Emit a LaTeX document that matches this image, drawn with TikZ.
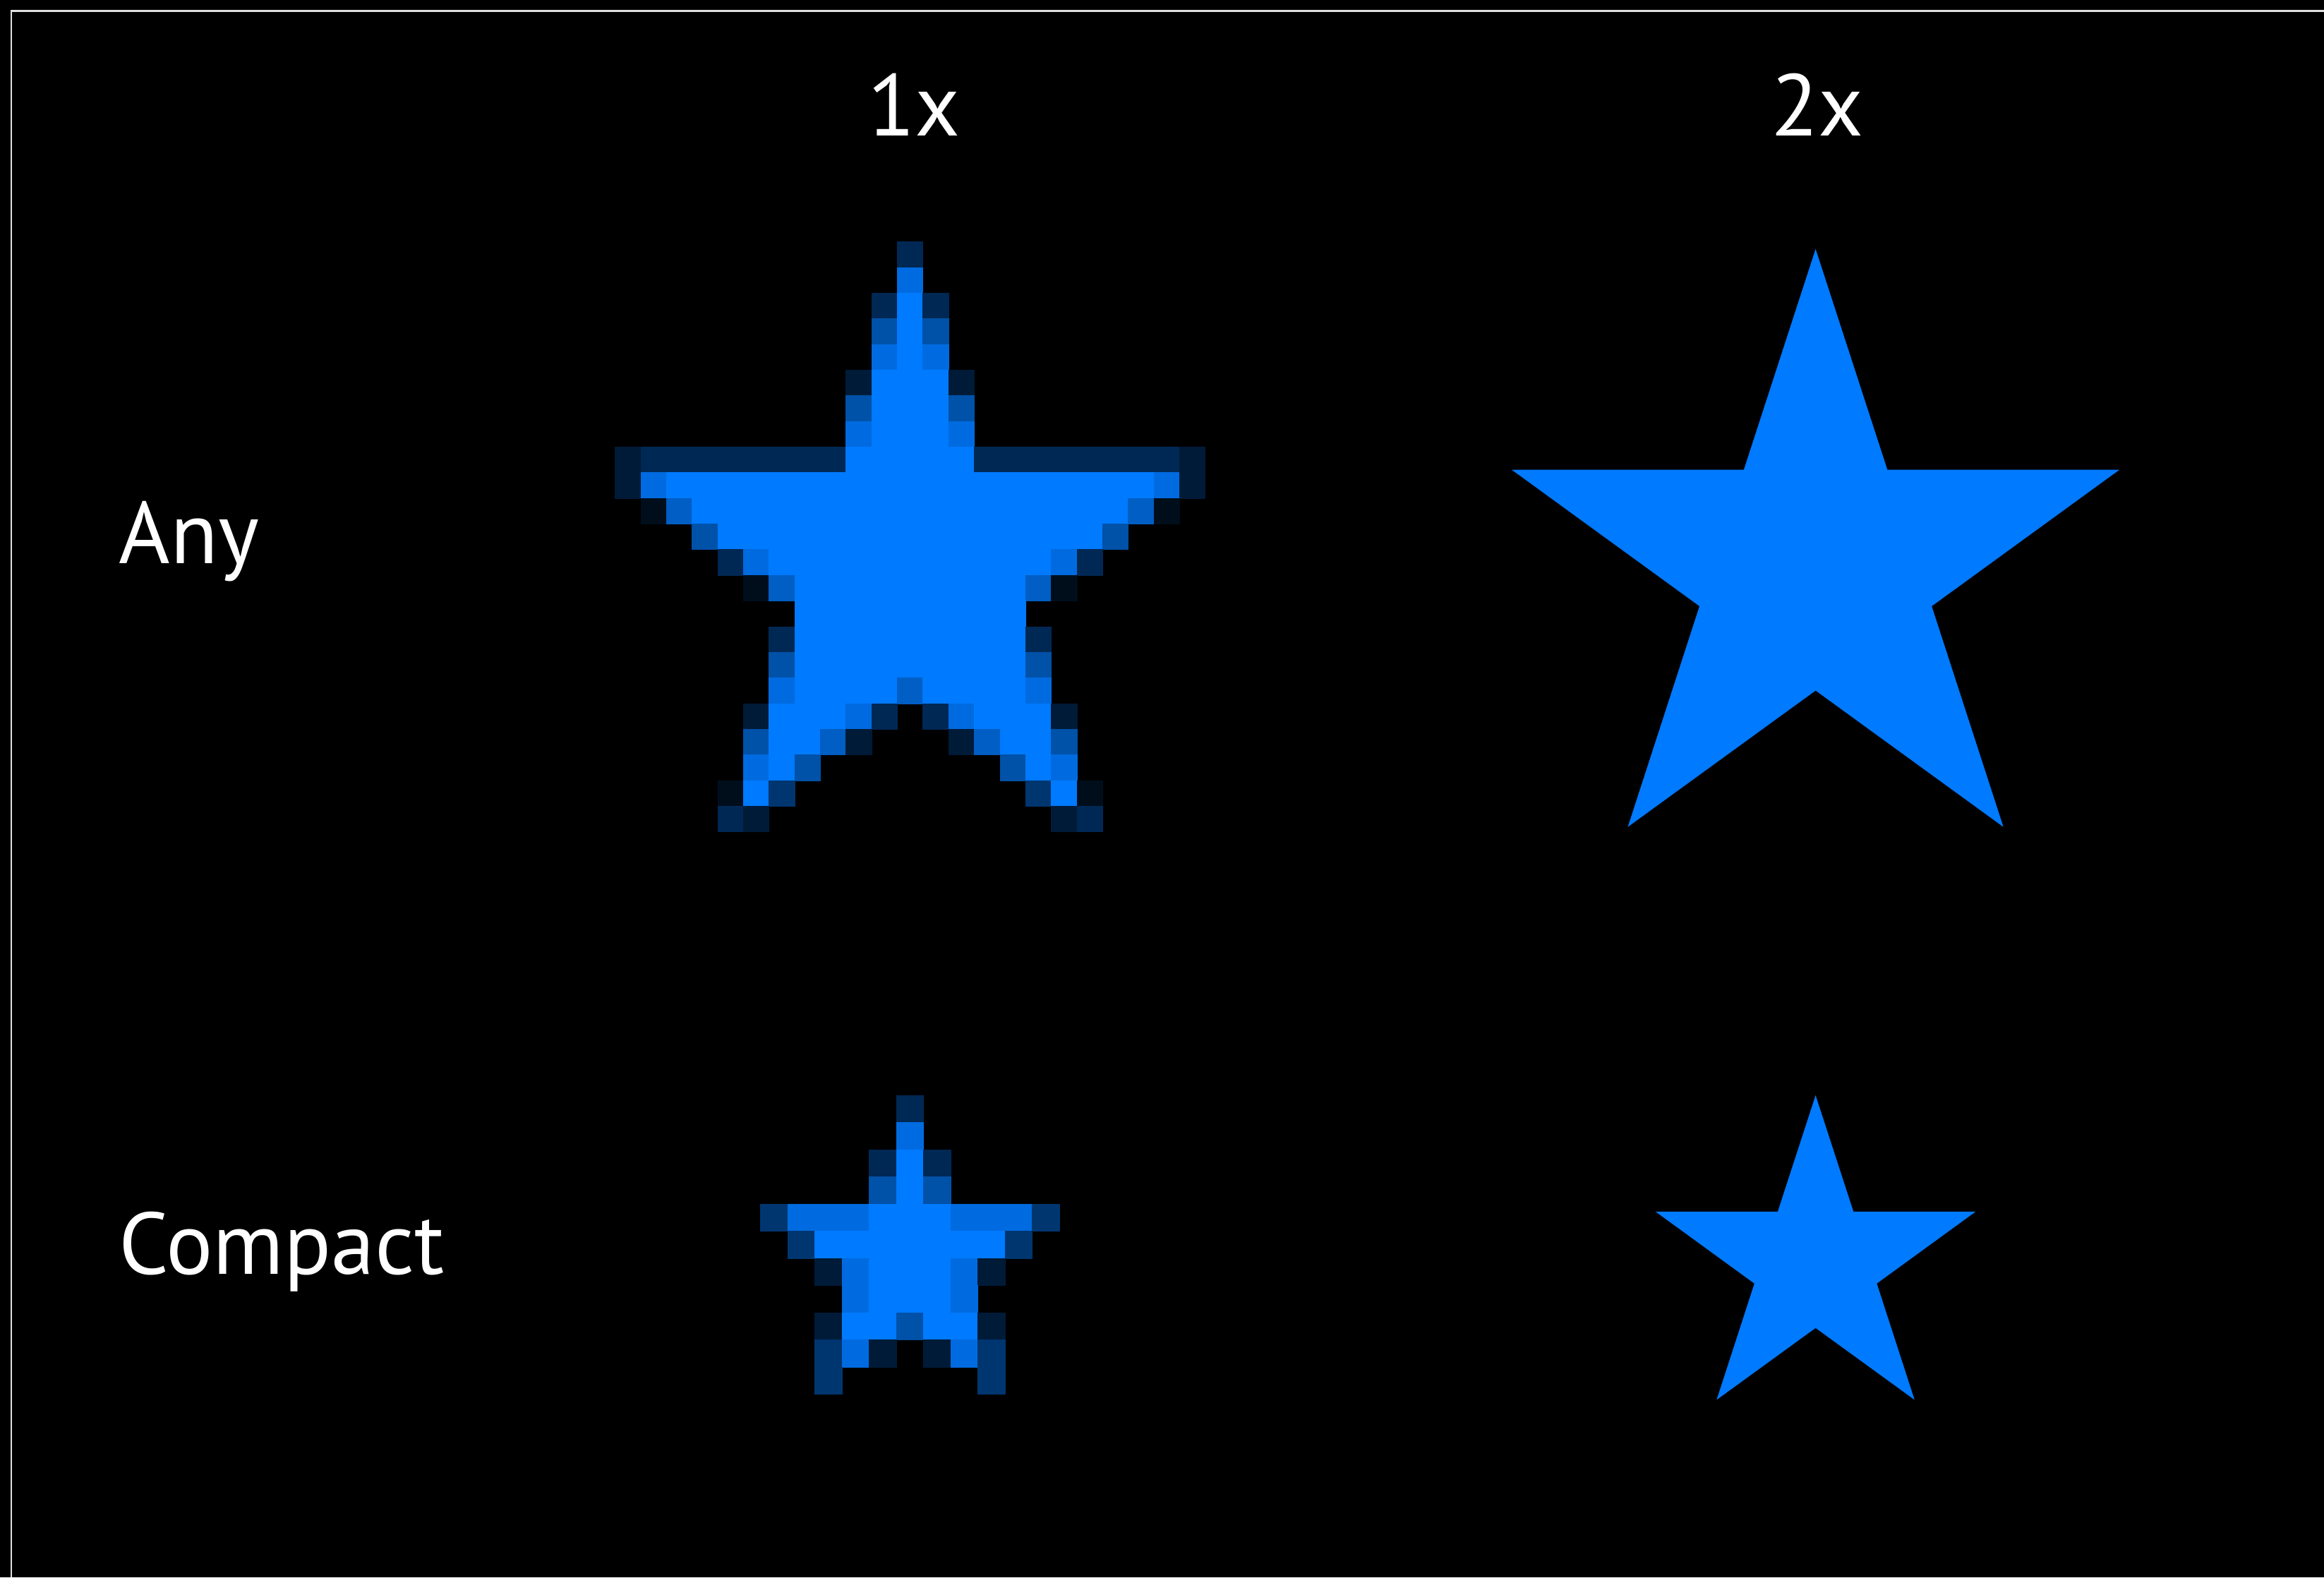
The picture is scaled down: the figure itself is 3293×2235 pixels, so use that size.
\documentclass[tikz,border=0pt]{standalone}
\usepackage{fontspec}
\setmainfont{PT Sans}
\definecolor{starblue}{RGB}{0,122,255}
\tikzset{
  lbl/.style={text=white, inner sep=0pt, font=\fontsize{35.3}{40}\selectfont},
  pix/.style={line width=0.15pt},
}

\begin{document}
\begin{tikzpicture}[x=0.01cm, y=-0.01cm]
  % Background and frame
  \fill[black] (0,0) rectangle (3293,2235);
  \useasboundingbox (0,0) rectangle (3293,2235);
  \draw[white!88!black, line width=0.7pt] (16,2235) -- (16,15.5) -- (3293,15.5);

  % Labels
  \node[lbl, anchor=base] (one) at (1295,192) {1x};
  \node[lbl, anchor=base] (two) at (2575,192) {2x};
  \node[lbl, anchor=base west] (any) at (168,798) {Any};
  \node[lbl, anchor=base west] (compact) at (168,1805) {Compact};

  % 1x, Any
  \foreach \row [count=\r from 0] in {
      {0,0,0,0,0,0,0,0,0,0,0,3,0,0,0,0,0,0,0,0,0,0,0},
      {0,0,0,0,0,0,0,0,0,0,0,8,0,0,0,0,0,0,0,0,0,0,0},
      {0,0,0,0,0,0,0,0,0,0,3,9,3,0,0,0,0,0,0,0,0,0,0},
      {0,0,0,0,0,0,0,0,0,0,6,9,6,0,0,0,0,0,0,0,0,0,0},
      {0,0,0,0,0,0,0,0,0,0,8,9,8,0,0,0,0,0,0,0,0,0,0},
      {0,0,0,0,0,0,0,0,0,2,9,9,9,2,0,0,0,0,0,0,0,0,0},
      {0,0,0,0,0,0,0,0,0,6,9,9,9,6,0,0,0,0,0,0,0,0,0},
      {0,0,0,0,0,0,0,0,0,8,9,9,9,8,0,0,0,0,0,0,0,0,0},
      {2,3,3,3,3,3,3,3,3,9,9,9,9,9,3,3,3,3,3,3,3,3,2},
      {2,8,9,9,9,9,9,9,9,9,9,9,9,9,9,9,9,9,9,9,9,8,2},
      {0,1,7,9,9,9,9,9,9,9,9,9,9,9,9,9,9,9,9,9,7,1,0},
      {0,0,0,6,9,9,9,9,9,9,9,9,9,9,9,9,9,9,9,6,0,0,0},
      {0,0,0,0,3,8,9,9,9,9,9,9,9,9,9,9,9,8,3,0,0,0,0},
      {0,0,0,0,0,1,7,9,9,9,9,9,9,9,9,9,7,1,0,0,0,0,0},
      {0,0,0,0,0,0,0,9,9,9,9,9,9,9,9,9,0,0,0,0,0,0,0},
      {0,0,0,0,0,0,3,9,9,9,9,9,9,9,9,9,3,0,0,0,0,0,0},
      {0,0,0,0,0,0,6,9,9,9,9,9,9,9,9,9,6,0,0,0,0,0,0},
      {0,0,0,0,0,0,8,9,9,9,9,7,9,9,9,9,8,0,0,0,0,0,0},
      {0,0,0,0,0,2,9,9,9,8,3,0,3,8,9,9,9,2,0,0,0,0,0},
      {0,0,0,0,0,6,9,9,7,2,0,0,0,2,7,9,9,6,0,0,0,0,0},
      {0,0,0,0,0,8,9,6,0,0,0,0,0,0,0,6,9,8,0,0,0,0,0},
      {0,0,0,0,1,9,4,0,0,0,0,0,0,0,0,0,4,9,1,0,0,0,0},
      {0,0,0,0,3,2,0,0,0,0,0,0,0,0,0,0,0,2,3,0,0,0,0}}{
    \foreach \v [count=\c from 0] in \row {
      \ifnum\v>0
        \pgfmathtruncatemacro\p{\v*100/9}
        \filldraw[pix, starblue!\p!black] ({871.5+36.35*\c},{342.5+36.35*\r}) rectangle ++(36.35,36.35);
      \fi
    }
  }

  % 1x, Compact
  \foreach \row [count=\r from 0] in {
      {0,0,0,0,0,3,0,0,0,0,0},
      {0,0,0,0,0,8,0,0,0,0,0},
      {0,0,0,0,3,9,3,0,0,0,0},
      {0,0,0,0,6,9,6,0,0,0,0},
      {4,8,8,8,9,9,9,8,8,8,4},
      {0,4,9,9,9,9,9,9,9,4,0},
      {0,0,2,8,9,9,9,8,2,0,0},
      {0,0,0,8,9,9,9,8,0,0,0},
      {0,0,2,9,9,6,9,9,2,0,0},
      {0,0,4,8,2,0,2,8,4,0,0},
      {0,0,4,0,0,0,0,0,4,0,0}}{
    \foreach \v [count=\c from 0] in \row {
      \ifnum\v>0
        \pgfmathtruncatemacro\p{\v*100/9}
        \filldraw[pix, starblue!\p!black] ({1077.5+38.5*\c},{1552+38.5*\r}) rectangle ++(38.5,38.5);
      \fi
    }
  }

  % 2x stars
  \fill[starblue, shift={(2572.6,805.5)}] (-90:452.7)
    \foreach \k in {1,...,5} { -- ({-54+72*(\k-1)}:173) -- ({-90+72*\k}:452.7) } -- cycle;
  \fill[starblue, shift={(2572.6,1790.5)}] (-90:238.5)
    \foreach \k in {1,...,5} { -- ({-54+72*(\k-1)}:91.2) -- ({-90+72*\k}:238.5) } -- cycle;
\end{tikzpicture}
\end{document}
